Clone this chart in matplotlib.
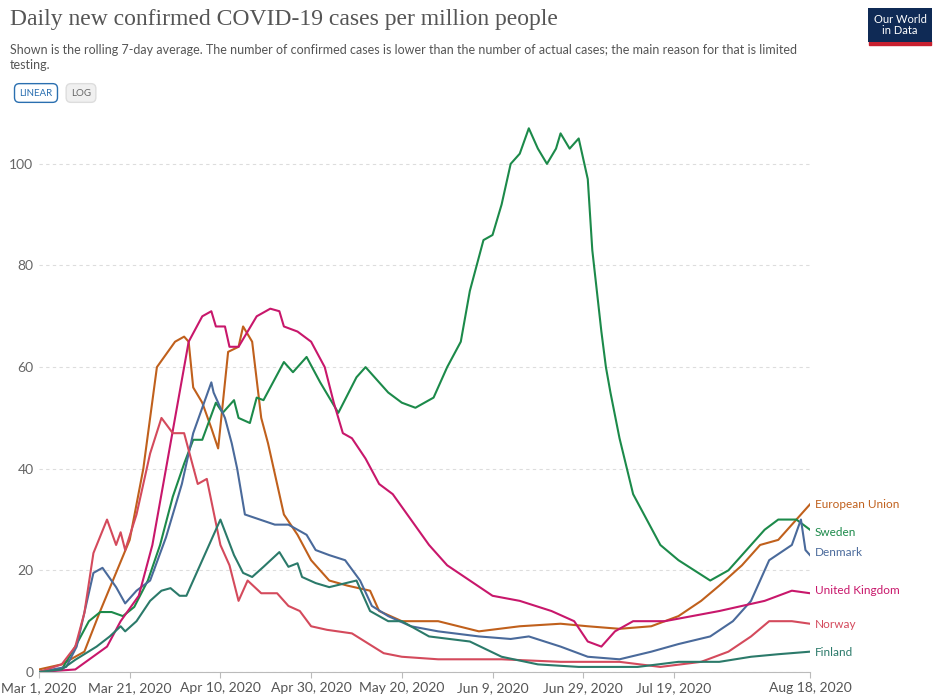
import numpy as np
import pandas as pd
import matplotlib.pyplot as plt
import matplotlib.dates as mdates

start = pd.Timestamp('2020-03-01')

sweden_d = [0, 5, 8, 11, 13.5, 16, 18.5, 21, 24, 26.7, 29.5, 32, 34, 36, 39, 40.5, 43, 44, 46.5, 48, 49.5, 51.6,
            54, 56, 59, 62, 66, 70, 72, 74, 77, 80, 83, 85, 87, 90, 93, 95, 98, 100, 102, 104, 106, 108, 110,
            112, 114, 115, 117, 119, 121, 122, 124, 125, 126, 128, 131, 134, 137, 141, 148, 152, 157, 160, 163, 167, 170]
sweden_v = [0, 0.5, 5, 10, 11.8, 11.8, 11, 12.8, 18, 25, 34.5, 41, 45.7, 45.7, 53, 51, 53.5, 50, 49, 54, 53.5, 57,
            61, 59, 62, 57, 51, 58, 60, 58, 55, 53, 52, 53, 54, 60, 65, 75, 85, 86, 92, 100, 102, 107, 103,
            100, 103, 106, 103, 105, 97, 83, 67, 60, 55, 46, 35, 30, 25, 22, 18, 20, 25, 28, 30, 30, 28]

eu_d = [0, 5, 10, 13.5, 20, 23, 26, 30, 32, 33, 34, 36, 38, 39.5, 41.7, 44, 45, 47, 49, 50.5, 52, 54, 57, 60, 64,
        68, 73, 75, 80, 88, 97, 106, 115, 121, 128, 135, 141, 146, 150, 155, 159, 163, 170]
eu_v = [0.5, 1.5, 4, 12, 26, 40, 60, 65, 66, 65, 56, 53, 48, 44, 63, 64, 68, 65, 50, 45, 39, 31, 27, 22, 18,
        17, 16, 12, 10, 10, 8, 9, 9.5, 9, 8.5, 9, 11, 14, 17, 21, 25, 26, 33]

uk_d = [0, 8, 15, 18, 22, 25, 28, 31, 33, 36, 38, 39, 41, 42, 44, 46, 48, 51, 53, 54, 57, 60, 63, 65, 67, 69, 72,
        75, 78, 82, 86, 90, 95, 100, 106, 113, 118, 121, 124, 127, 131, 138, 144, 150, 155, 160, 166, 170]
uk_v = [0, 0.5, 5, 10, 15, 25, 40, 55, 65, 70, 71, 68, 68, 64, 64, 67, 70, 71.5, 71, 68, 67, 65, 60, 53, 47, 46, 42,
        37, 35, 30, 25, 21, 18, 15, 14, 12, 10, 6, 5, 8, 10, 10, 11, 12, 13, 14, 16, 15.5]

denmark_d = [0, 6, 8.3, 12, 14, 17, 19, 21.5, 24.5, 28, 31.5, 34, 38, 38.5, 41, 42.5, 43.7, 45.4, 48.7, 52, 55, 59,
             61, 64, 67.5, 70.8, 73.4, 77, 82, 88, 97, 104, 108, 115, 121, 128, 135, 141, 148, 153, 157, 161, 166,
             168, 169, 170]
denmark_v = [0, 1, 5, 19.5, 20.5, 16.7, 13.5, 16, 18, 26.5, 37, 47, 57, 55, 50, 45, 40, 31, 30, 29, 29, 27,
             24, 23, 22, 18, 13, 11, 9, 8, 7, 6.5, 7, 5, 3, 2.5, 4, 5.5, 7, 10, 14, 22, 25,
             30, 24, 23]

norway_d = [0, 5, 8, 10, 12, 15, 17, 18, 19, 21.5, 24.5, 27, 29.5, 32, 35, 37, 40, 42, 44, 46, 49, 52.5, 55, 57.5,
            60, 63.5, 69, 76, 80, 88, 102, 115, 128, 137, 146, 152, 157, 161, 166, 170]
norway_v = [0, 1.5, 5, 11.6, 23.4, 30, 25, 27.5, 24, 31, 43, 50, 47, 47, 37, 38, 25, 21, 14, 18, 15.5, 15.5, 13, 12,
            9, 8.3, 7.6, 3.7, 3, 2.5, 2.5, 2, 2, 1, 2, 4, 7, 10, 10, 9.5]

finland_d = [0, 5, 8, 12.7, 15.6, 18, 19, 21.5, 24.5, 27, 29, 31, 32.5, 34, 36, 38.5, 40, 41.5, 43, 45, 47, 49.5,
             53, 55, 57, 58, 61, 64, 70, 73, 77, 80, 86, 95, 102, 110, 119, 132, 141, 150, 157, 163, 170]
finland_v = [0, 0.5, 2.4, 5, 7, 9, 8, 10, 14, 16, 16.5, 15, 15, 18, 22, 27, 30, 26.5, 23, 19.5, 18.7, 20.7,
             23.6, 20.7, 21.4, 18.7, 17.5, 16.7, 18, 12, 10, 10, 7, 6, 3, 1.5, 1, 1, 2, 2, 3, 3.5, 4]

series = [
    ('European Union', eu_d, eu_v, '#c0601c', 33),
    ('Sweden', sweden_d, sweden_v, '#1c8a4a', 27.5),
    ('Denmark', denmark_d, denmark_v, '#4a6a9b', 23.5),
    ('United Kingdom', uk_d, uk_v, '#c8176b', 16),
    ('Norway', norway_d, norway_v, '#d44a5c', 9.3),
    ('Finland', finland_d, finland_v, '#2b7a6a', 3.8),
]

fig = plt.figure(figsize=(9.41, 7.0), dpi=100)
ax = fig.add_axes([39 / 941, 28 / 700, 771 / 941, 562 / 700])

for name, d, v, col, ly in series:
    dates = start + pd.to_timedelta(np.array(d), unit='D')
    ax.plot(dates, v, color=col, lw=1.5)
    ax.text(start + pd.Timedelta(days=171), ly, name, color=col, fontsize=8.5,
            va='center', ha='left', family='Lato')

ax.set_xlim(start, start + pd.Timedelta(days=170))
ax.set_ylim(0, 110.6)
ticks = [start + pd.Timedelta(days=k) for k in (0, 20, 40, 60, 80, 100, 120, 140, 170)]
ax.set_xticks(ticks)
ax.set_xticklabels([t.strftime('%b %-d, %Y') for t in ticks], fontsize=10, color='#555555', family='Lato')
ax.set_yticks([0, 20, 40, 60, 80, 100])
ax.set_yticklabels(['0', '20', '40', '60', '80', '100'], fontsize=10, color='#666666', family='Lato')
ax.yaxis.grid(True, ls=(0, (3, 3)), color='#dddddd', lw=0.8)
ax.tick_params(axis='y', length=0, pad=4)
ax.tick_params(axis='x', length=4, color='#bbbbbb', pad=3)
for s in ['top', 'right', 'left']:
    ax.spines[s].set_visible(False)
ax.spines['bottom'].set_color('#bbbbbb')
ax.set_axisbelow(True)

fig.text(10 / 941, 1 - 20 / 700, 'Daily new confirmed COVID-19 cases per million people',
         fontsize=17, color='#555555', family='Liberation Serif', va='center')
fig.text(10 / 941, 1 - 44 / 700, 'Shown is the rolling 7-day average. The number of confirmed cases is lower than '
         'the number of actual cases; the main reason for that is limited\ntesting.',
         fontsize=9, color='#555555', family='Lato', va='top', linespacing=1.3)

fig.text(36 / 941, 1 - 93 / 700, 'LINEAR', fontsize=7, color='#2a6fb0', family='Lato', ha='center', va='center',
         bbox=dict(boxstyle='round,pad=0.5', fc='white', ec='#2a6fb0', lw=1))
fig.text(81 / 941, 1 - 93 / 700, 'LOG', fontsize=7, color='#666666', family='Lato', ha='center', va='center',
         bbox=dict(boxstyle='round,pad=0.5', fc='#f0f0f0', ec='#dddddd', lw=1))

fig.text(900 / 941, 1 - 25 / 700, 'Our World\nin Data', fontsize=8, color='white', family='Lato',
         ha='center', va='center', linespacing=1.0,
         bbox=dict(boxstyle='square,pad=0.5', fc='#0f2a55', ec='none'))
fig.patches.append(plt.Rectangle((869 / 941, 1 - 45 / 700), 62 / 941, 4 / 700, transform=fig.transFigure,
                                 color='#c8202f'))

fig.savefig('out.png', dpi=100)
